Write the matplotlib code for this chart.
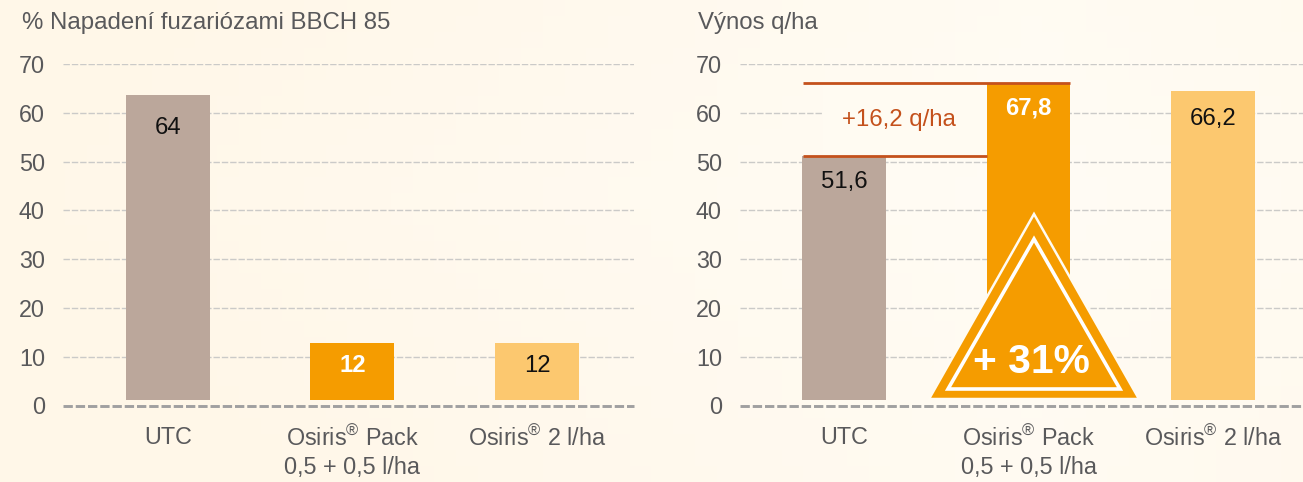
import matplotlib
matplotlib.use('Agg')
import matplotlib.pyplot as plt
from matplotlib.patches import Polygon
import numpy as np

plt.rcParams['font.family'] = ['Liberation Sans', 'DejaVu Sans']
plt.rcParams['mathtext.fontset'] = 'custom'
plt.rcParams['mathtext.rm'] = 'Liberation Sans'

# data
categories = ['UTC', 'Osiris$^{\\mathrm{®}}$ Pack\n0,5 + 0,5 l/ha', 'Osiris$^{\\mathrm{®}}$ 2 l/ha']
y_ticks = [0, 10, 20, 30, 40, 50, 60, 70]
infection_tops = [63.6, 12.8, 12.8]
infection_labels = ['64', '12', '12']
yield_tops = [51.1, 66.1, 64.5]
yield_labels = ['51,6', '67,8', '66,2']
bar_bottom = 1.1

COLORS = ['#BBA79B', '#F59C00', '#FCC86F']
LABEL_COLORS = ['#111111', '#FFFFFF', '#111111']
TEXT = '#59595B'
RED = '#C4511C'
FS = 16.8

W, H = 1303, 482
fig = plt.figure(figsize=(W / 100, H / 100), dpi=100)

# soft cream background
bg = fig.add_axes([0, 0, 1, 1], zorder=0)
xx, yy = np.meshgrid(np.linspace(0, 1, 60), np.linspace(0, 1, 30))
shade = np.clip(1 - np.abs(xx - 0.8) * 1.2 - np.abs(yy - 0.6) * 0.4, 0, 1)
c0, c1 = np.array([255, 247, 232]) / 255, np.array([255, 252, 245]) / 255
bg.imshow(c0 + (c1 - c0) * shade[..., None], aspect='auto', extent=[0, 1, 0, 1], origin='lower')
bg.axis('off')


def px_axes(x0, x1, y_top, y_bottom):
    return fig.add_axes([x0 / W, 1 - y_bottom / H, (x1 - x0) / W, (y_bottom - y_top) / H], zorder=1)


def draw_panel(ax, tops, labels, label_drop, xlim, title, title_x):
    ax.patch.set_alpha(0)
    x = np.arange(3)
    ax.bar(x, np.array(tops) - bar_bottom, 0.455, bottom=bar_bottom, color=COLORS, zorder=3)
    for i, lab in enumerate(labels):
        ax.annotate(lab, (x[i], tops[i]), xytext=(0, -label_drop[i]), textcoords='offset pixels',
                    ha='center', va='center', fontsize=17.2, color=LABEL_COLORS[i],
                    fontweight='bold' if i == 1 else 'normal', zorder=5)
    ax.set_xlim(*xlim)
    ax.set_ylim(0, 70)
    ax.set_yticks(y_ticks)
    ax.set_xticks(x)
    ax.set_xticklabels(categories, linespacing=1.25)
    ax.tick_params(length=0, labelsize=FS, labelcolor=TEXT)
    ax.tick_params(axis='y', pad=13)
    ax.tick_params(axis='x', pad=15)
    for s in ax.spines.values():
        s.set_visible(False)
    ax.hlines(y_ticks[1:], *xlim, color='#CBCAC8', linestyle=(0, (4.6, 1.4)), linewidth=1, zorder=1)
    ax.axhline(0, color='#A0A0A0', linestyle=(0, (3.2, 1)), linewidth=2.1, zorder=2, clip_on=False)
    fig.text(title_x / W, 1 - 23 / H, title, fontsize=17.3, color=TEXT, va='center', ha='left')


ax1 = px_axes(63, 634, 64, 405.5)
ax2 = px_axes(740, 1303, 64, 405.5)
draw_panel(ax1, infection_tops, infection_labels, [33, 22, 23], (-0.569, 2.526),
           '% Napadení fuzariózami BBCH 85', 22)
draw_panel(ax2, yield_tops, yield_labels, [26, 25, 28], (-0.5637, 2.4878), 'Výnos q/ha', 698)

# bracket showing the yield gain
ax2.fill_between([-0.114, 0.775], yield_tops[0] + 0.4, yield_tops[1] - 0.4, color='#FFFBF2', zorder=2)
ax2.hlines([yield_tops[1], yield_tops[0]], -0.222, [1.227, 0.775], color=RED, linewidth=2, zorder=4)
ax2.text(0.30, 58.6, '+16,2 q/ha', ha='center', va='center', fontsize=17.3, color=RED, zorder=5)


# triangle badge
def px_poly(pts):
    return [(x / W, 1 - y / H) for x, y in pts]


fig.add_artist(Polygon(px_poly([(1034, 214), (1139, 399), (929, 399)]), closed=True, transform=fig.transFigure,
                       facecolor=COLORS[1], edgecolor='#FFFBF2', linewidth=1.8, zorder=6))
fig.add_artist(Polygon(px_poly([(1034, 239), (1120, 389), (948, 389)]), closed=True, transform=fig.transFigure,
                       facecolor=COLORS[1], edgecolor='#FFFFFF', linewidth=2.6, zorder=7))
t = fig.text(1031 / W, 1 - 362 / H, '+ 31%', ha='center', va='center', fontsize=29.3, fontweight='bold', color='white')
t.set_zorder(8)

plt.savefig('out.png', dpi=100, facecolor='#FFF8EB')
